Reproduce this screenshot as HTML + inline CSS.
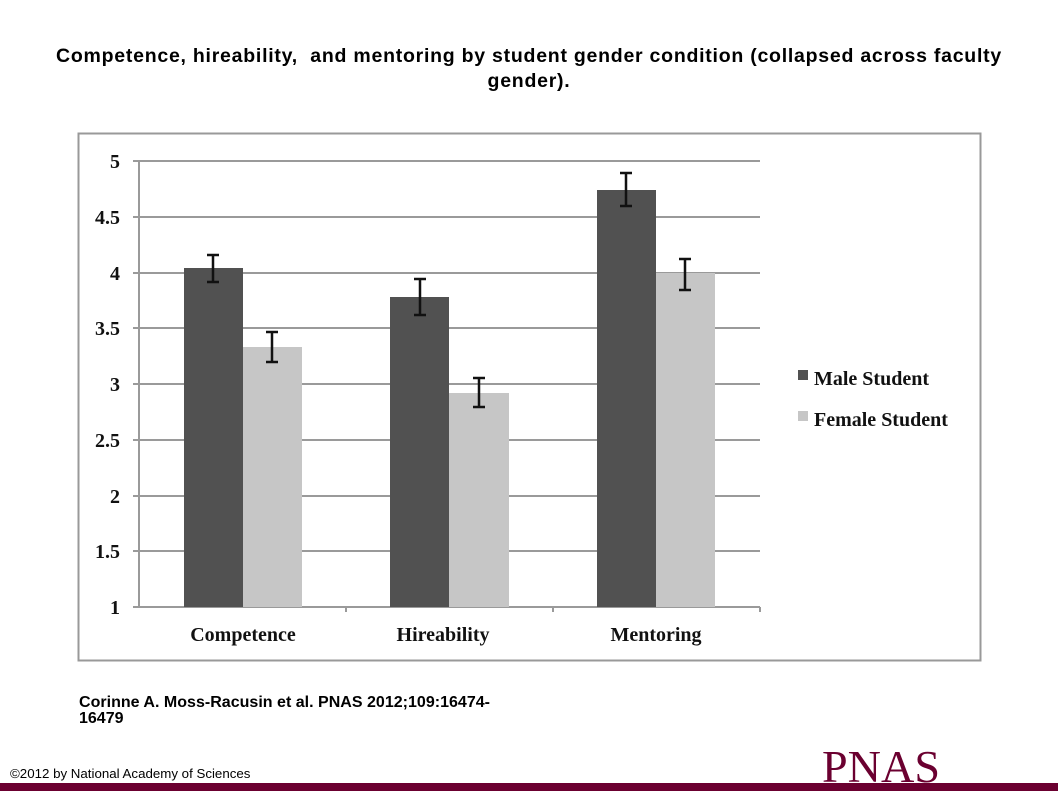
<!DOCTYPE html>
<html><head><style>
body{margin:0;width:1058px;height:794px;background:#fff;position:relative;overflow:hidden;font-family:"Liberation Sans",sans-serif}
.t{position:absolute;left:0;width:1058px;top:44px;text-align:center;font-weight:bold;font-size:19.5px;letter-spacing:0.75px;line-height:25px}
</style></head><body>
<div class="t">Competence, hireability,&nbsp; and mentoring by student gender condition (collapsed across faculty<br>gender).</div>
<svg width="1058" height="794" style="position:absolute;left:0;top:0">
<rect x="78.5" y="133.5" width="902" height="527" fill="#fff" stroke="#999" stroke-width="2"/>
<g stroke="#9a9a9a" stroke-width="2">
<line x1="133" x2="760" y1="161" y2="161"/><line x1="133" x2="760" y1="217" y2="217"/>
<line x1="133" x2="760" y1="273" y2="273"/><line x1="133" x2="760" y1="328" y2="328"/>
<line x1="133" x2="760" y1="384" y2="384"/><line x1="133" x2="760" y1="440" y2="440"/>
<line x1="133" x2="760" y1="496" y2="496"/><line x1="133" x2="760" y1="551" y2="551"/>
<line x1="133" x2="760" y1="607" y2="607"/><line x1="139" x2="139" y1="161" y2="607"/>
<line x1="346" x2="346" y1="607" y2="612"/><line x1="553" x2="553" y1="607" y2="612"/><line x1="760" x2="760" y1="607" y2="612"/>
</g>
<g fill="#515151">
<rect x="184" y="268" width="59" height="339"/><rect x="390" y="297" width="59" height="310"/><rect x="597" y="190" width="59" height="417"/>
</g>
<g fill="#c6c6c6">
<rect x="243" y="347" width="59" height="260"/><rect x="449" y="393" width="60" height="214"/><rect x="656" y="273" width="59" height="334"/>
</g>
<g stroke="#111" stroke-width="2.5" fill="none">
<path d="M213 255v27M207 255h12M207 282h12"/>
<path d="M272 332v30M266 332h12M266 362h12"/>
<path d="M420 279v36M414 279h12M414 315h12"/>
<path d="M479 378v29M473 378h12M473 407h12"/>
<path d="M626 173v33M620 173h12M620 206h12"/>
<path d="M685 259v31M679 259h12M679 290h12"/>
</g>
<g font-family="Liberation Serif,serif" font-weight="bold" font-size="20" fill="#111" text-anchor="end">
<text x="120" y="168">5</text><text x="120" y="224">4.5</text><text x="120" y="280">4</text>
<text x="120" y="335">3.5</text><text x="120" y="391">3</text><text x="120" y="447">2.5</text>
<text x="120" y="503">2</text><text x="120" y="558">1.5</text><text x="120" y="614">1</text>
</g>
<g font-family="Liberation Serif,serif" font-weight="bold" font-size="20" fill="#111" text-anchor="middle">
<text x="243" y="641">Competence</text><text x="443" y="641">Hireability</text><text x="656" y="641">Mentoring</text>
</g>
<rect x="798" y="370" width="10" height="10" fill="#515151"/>
<rect x="798" y="411" width="10" height="10" fill="#c6c6c6"/>
<g font-family="Liberation Serif,serif" font-weight="bold" font-size="20" fill="#111">
<text x="814" y="385">Male Student</text><text x="814" y="426">Female Student</text>
</g>
<text x="79" y="707" font-size="16" font-weight="bold" font-family="Liberation Sans,sans-serif" textLength="411" lengthAdjust="spacing">Corinne A. Moss-Racusin et al. PNAS 2012;109:16474-</text>
<text x="79" y="723" font-size="16" font-weight="bold" font-family="Liberation Sans,sans-serif">16479</text>
<text x="10" y="778" font-size="13.3" font-family="Liberation Sans,sans-serif">©2012 by National Academy of Sciences</text>
<text x="822" y="782" font-size="45" font-family="Liberation Serif,serif" fill="#6b0030" textLength="118" lengthAdjust="spacingAndGlyphs">PNAS</text>
<rect x="0" y="783" width="1058" height="8" fill="#6b0030"/>
</svg>
</body></html>
